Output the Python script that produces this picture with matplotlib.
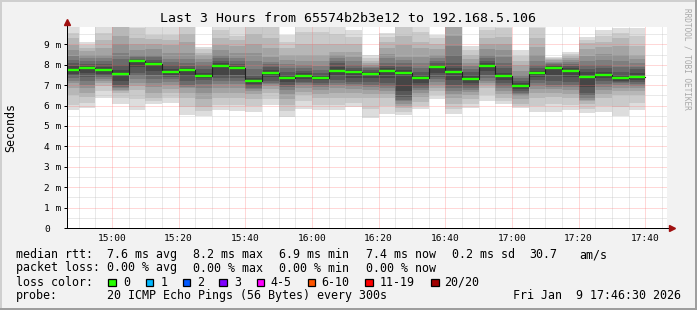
import numpy as np
import matplotlib
matplotlib.use("Agg")
import matplotlib.pyplot as plt
from matplotlib.patches import Rectangle

# ---------------- data ----------------
title = "Last 3 Hours from 65574b2b3e12 to 192.168.5.106"
range_start, range_end = "14:46:30", "17:46:30"

bucket_end = ["14:50", "14:55", "15:00", "15:05", "15:10", "15:15", "15:20",
              "15:25", "15:30", "15:35", "15:40", "15:45", "15:50", "15:55",
              "16:00", "16:05", "16:10", "16:15", "16:20", "16:25", "16:30",
              "16:35", "16:40", "16:45", "16:50", "16:55", "17:00", "17:05",
              "17:10", "17:15", "17:20", "17:25", "17:30", "17:35", "17:40"]

median_ms = [7.76, 7.82, 7.73, 7.53, 8.17, 8.02, 7.63, 7.73, 7.47, 7.92,
             7.82, 7.19, 7.58, 7.33, 7.43, 7.37, 7.68, 7.63, 7.56, 7.68,
             7.58, 7.37, 7.90, 7.63, 7.32, 7.92, 7.43, 6.94, 7.58, 7.82,
             7.68, 7.38, 7.48, 7.33, 7.38]

loss_count = [0, 0, 0, 0, 0, 0, 0, 0, 0, 0, 0, 0, 0, 0, 0, 0, 0, 0,
              0, 0, 0, 0, 0, 0, 0, 0, 0, 0, 0, 0, 0, 0, 0, 0, 0]

# 20 round-trip times (ms) per 5-minute step
pings_ms = [
    [5.78, 6.02, 6.50, 6.85, 7.09, 7.20, 7.35, 7.45, 7.55, 7.72, 7.80, 7.95, 8.10, 8.25, 8.45, 8.70, 8.95, 9.30, 9.55, 10.5],
    [5.90, 6.15, 6.43, 6.60, 6.84, 7.00, 7.20, 7.40, 7.60, 7.78, 7.86, 7.95, 8.05, 8.20, 8.35, 8.50, 8.65, 8.80, 8.95, 9.13],
    [6.38, 6.70, 6.95, 7.09, 7.20, 7.30, 7.38, 7.45, 7.55, 7.70, 7.76, 7.90, 8.05, 8.20, 8.35, 8.50, 8.80, 9.20, 9.55, 9.90],
    [6.06, 6.35, 6.60, 6.70, 6.78, 6.84, 6.90, 7.00, 7.20, 7.50, 7.56, 7.75, 8.00, 8.30, 8.60, 9.00, 9.40, 9.90, 10.4, 11.0],
    [5.78, 6.30, 6.78, 6.95, 7.11, 7.30, 7.43, 7.60, 7.90, 8.12, 8.22, 8.25, 8.30, 8.40, 8.50, 8.70, 9.00, 9.30, 9.80, 10.5],
    [6.06, 6.20, 6.35, 6.60, 6.90, 7.10, 7.30, 7.50, 7.70, 7.97, 8.07, 8.15, 8.25, 8.38, 8.48, 8.75, 9.00, 9.25, 9.46, 10.2],
    [6.11, 6.35, 6.60, 6.80, 7.00, 7.15, 7.30, 7.40, 7.50, 7.60, 7.66, 7.80, 8.00, 8.15, 8.30, 8.60, 8.97, 9.20, 9.46, 10.3],
    [5.54, 5.95, 6.35, 6.60, 6.84, 6.92, 7.00, 7.20, 7.45, 7.70, 7.76, 7.85, 7.95, 8.10, 8.30, 8.60, 9.13, 9.50, 9.90, 10.5],
    [5.50, 5.75, 5.95, 6.30, 6.60, 6.85, 7.05, 7.25, 7.35, 7.45, 7.49, 7.60, 7.80, 7.99, 8.15, 8.30, 8.48, 8.60, 8.75, 8.88],
    [5.78, 6.05, 6.35, 6.60, 6.85, 7.05, 7.20, 7.35, 7.45, 7.88, 7.96, 8.07, 8.20, 8.35, 8.50, 8.70, 8.97, 9.30, 9.70, 10.3],
    [5.75, 6.05, 6.35, 6.60, 6.85, 7.05, 7.20, 7.35, 7.50, 7.78, 7.86, 7.92, 8.05, 8.20, 8.31, 8.60, 8.90, 9.20, 9.40, 10.3],
    [5.70, 6.00, 6.30, 6.55, 6.70, 6.80, 6.88, 6.95, 7.05, 7.15, 7.23, 7.35, 7.50, 7.80, 8.20, 8.60, 9.00, 9.50, 10.0, 10.8],
    [6.03, 6.30, 6.60, 6.80, 6.95, 7.05, 7.09, 7.20, 7.40, 7.55, 7.61, 7.74, 7.90, 8.05, 8.15, 8.40, 8.80, 9.30, 9.90, 10.4],
    [5.45, 5.75, 6.03, 6.30, 6.55, 6.75, 6.90, 7.00, 7.15, 7.30, 7.36, 7.50, 7.66, 7.85, 8.05, 8.25, 8.48, 8.80, 9.10, 9.46],
    [5.83, 6.20, 6.50, 6.68, 6.85, 7.00, 7.10, 7.17, 7.30, 7.40, 7.46, 7.58, 7.70, 7.82, 8.00, 8.20, 8.48, 9.00, 9.60, 10.2],
    [5.78, 6.05, 6.35, 6.55, 6.75, 6.90, 7.00, 7.10, 7.25, 7.34, 7.40, 7.50, 7.60, 7.75, 7.95, 8.20, 8.48, 9.00, 9.60, 10.2],
    [5.78, 6.05, 6.35, 6.60, 6.85, 7.00, 7.09, 7.25, 7.45, 7.65, 7.71, 7.90, 8.07, 8.20, 8.35, 8.50, 8.64, 9.00, 9.50, 9.95],
    [5.95, 6.15, 6.35, 6.60, 6.80, 6.95, 7.05, 7.17, 7.35, 7.60, 7.66, 7.75, 7.85, 8.00, 8.20, 8.40, 8.64, 9.00, 9.35, 9.70],
    [5.40, 5.85, 6.35, 6.55, 6.75, 6.90, 7.00, 7.15, 7.35, 7.53, 7.59, 7.66, 7.75, 7.82, 7.90, 8.00, 8.10, 8.20, 8.35, 8.48],
    [5.60, 6.00, 6.35, 6.55, 6.70, 6.84, 6.95, 7.10, 7.35, 7.65, 7.71, 7.82, 7.95, 8.10, 8.31, 8.55, 8.80, 9.13, 9.35, 9.55],
    [5.54, 5.70, 5.86, 6.00, 6.10, 6.20, 6.27, 6.40, 6.70, 7.55, 7.61, 7.75, 7.90, 8.10, 8.25, 8.40, 8.97, 9.40, 9.90, 10.4],
    [5.83, 6.00, 6.19, 6.40, 6.60, 6.75, 6.84, 6.95, 7.10, 7.34, 7.40, 7.50, 7.66, 7.85, 8.10, 8.40, 8.80, 9.13, 9.60, 10.3],
    [6.30, 6.50, 6.70, 6.84, 7.00, 7.15, 7.30, 7.41, 7.60, 7.87, 7.93, 7.99, 8.10, 8.20, 8.31, 8.50, 8.75, 9.00, 9.30, 9.47],
    [5.60, 5.85, 6.10, 6.35, 6.55, 6.70, 6.84, 7.00, 7.25, 7.60, 7.66, 7.82, 8.10, 8.50, 8.90, 9.40, 9.90, 10.4, 10.9, 11.5],
    [5.90, 6.10, 6.30, 6.52, 6.65, 6.75, 6.84, 6.95, 7.10, 7.30, 7.34, 7.50, 7.66, 7.80, 7.95, 8.10, 8.30, 8.48, 8.70, 8.90],
    [6.20, 6.50, 6.84, 7.00, 7.10, 7.20, 7.33, 7.50, 7.70, 7.88, 7.96, 8.07, 8.20, 8.31, 8.50, 8.75, 9.00, 9.29, 9.70, 10.2],
    [6.06, 6.20, 6.35, 6.55, 6.70, 6.84, 6.95, 7.10, 7.25, 7.40, 7.46, 7.58, 7.82, 8.10, 8.40, 8.70, 9.00, 9.37, 9.80, 10.3],
    [5.86, 6.00, 6.10, 6.30, 6.45, 6.55, 6.60, 6.70, 6.80, 6.92, 6.96, 7.09, 7.20, 7.35, 7.50, 7.70, 7.99, 8.20, 8.45, 8.70],
    [5.70, 6.00, 6.35, 6.60, 6.80, 6.95, 7.10, 7.25, 7.40, 7.55, 7.61, 7.70, 7.82, 8.00, 8.20, 8.50, 8.88, 9.30, 9.80, 10.3],
    [5.70, 6.10, 6.43, 6.60, 6.80, 6.90, 7.00, 7.20, 7.50, 7.80, 7.84, 7.92, 7.99, 8.05, 8.10, 8.15, 8.23, 8.28, 8.33, 8.40],
    [5.78, 6.05, 6.35, 6.55, 6.75, 6.90, 7.00, 7.15, 7.40, 7.65, 7.71, 7.82, 7.95, 8.05, 8.15, 8.25, 8.35, 8.45, 8.55, 8.64],
    [5.62, 5.85, 6.10, 6.20, 6.27, 6.35, 6.45, 6.60, 6.90, 7.35, 7.41, 7.66, 7.80, 7.99, 8.20, 8.45, 8.75, 9.05, 9.20, 9.38],
    [5.70, 6.00, 6.35, 6.55, 6.75, 6.92, 7.05, 7.20, 7.35, 7.45, 7.51, 7.65, 7.82, 7.99, 8.25, 8.55, 8.85, 9.13, 9.40, 9.70],
    [5.50, 5.95, 6.52, 6.70, 6.85, 7.00, 7.09, 7.15, 7.22, 7.30, 7.36, 7.50, 7.66, 7.90, 8.20, 8.50, 8.90, 9.29, 9.55, 9.82],
    [5.78, 6.15, 6.52, 6.70, 6.84, 6.95, 7.05, 7.15, 7.25, 7.35, 7.41, 7.60, 7.80, 7.90, 8.10, 8.30, 8.48, 8.90, 9.40, 9.82],
]

x_tick_labels = ["15:00", "15:20", "15:40", "16:00", "16:20", "16:40", "17:00", "17:20", "17:40"]
y_tick_values = [0, 1, 2, 3, 4, 5, 6, 7, 8, 9]
y_tick_labels = ["0", "1 m", "2 m", "3 m", "4 m", "5 m", "6 m", "7 m", "8 m", "9 m"]
y_max_ms = 9.85

loss_labels = ["0", "1", "2", "3", "4-5", "6-10", "11-19", "20/20"]
loss_colors = ["#26ff00", "#00b8ff", "#0059ff", "#7e00ff", "#ff00ff", "#ff5500", "#ff0000", "#a10000"]

stats_rtt = ["7.6 ms avg", "8.2 ms max", "6.9 ms min", "7.4 ms now", "0.2 ms sd", "30.7", "am/s"]
stats_loss = ["0.00 % avg", "0.00 % max", "0.00 % min", "0.00 % now"]
probe_text = "20 ICMP Echo Pings (56 Bytes) every 300s"
stamp_text = "Fri Jan  9 17:46:30 2026"
y_label = "Seconds"
watermark = "RRDTOOL / TOBI OETIKER"

# ---------------- helpers ----------------
def to_min(s):
    parts = [int(p) for p in s.split(":")]
    while len(parts) < 3:
        parts.append(0)
    return parts[0] * 60 + parts[1] + parts[2] / 60.0

W, H = 697, 310
MONO = "DejaVu Sans Mono"
BG = "#f2f2f2"

fig = plt.figure(figsize=(W / 100, H / 100), dpi=100, facecolor=BG)

def fx(x):
    return x / W

def fy(y):
    return 1 - y / H

ax_left, ax_right, ax_top, ax_bottom = 67, 667, 27, 228
ax = fig.add_axes([fx(ax_left), fy(ax_bottom), (ax_right - ax_left) / W, (ax_bottom - ax_top) / H])
ax.set_facecolor("white")

ends = np.array([to_min(t) for t in bucket_end])
step = 5.0
lefts = ends - step

# smoke (smokeping style: outer ping pairs light, inner pairs dark)
for left, pings in zip(lefts, pings_ms):
    p = sorted(pings)
    n = len(p)
    half = n / 2
    ibot, itop = 1, n
    while itop > ibot:
        c = int(190 / half * (half - ibot)) + 50
        col = "#%02x%02x%02x" % (c, c, c)
        ax.bar(left, p[itop - 1] - p[ibot - 1], bottom=p[ibot - 1], width=step,
               align="edge", color=col, linewidth=0, zorder=1)
        ibot += 1
        itop -= 1

# median dark step line
xs = np.append(lefts, ends[-1])
ys = np.append(median_ms, median_ms[-1])
ax.step(xs, ys, where="post", color="#202020", lw=0.8, zorder=3)

# loss-coloured median band
def loss_color(l):
    if l == 0:
        return loss_colors[0]
    if l <= 3:
        return loss_colors[l]
    if l <= 5:
        return loss_colors[4]
    if l <= 10:
        return loss_colors[5]
    if l <= 19:
        return loss_colors[6]
    return loss_colors[7]

ax.hlines(median_ms, lefts, ends, colors=[loss_color(l) for l in loss_count], lw=1.7, zorder=4)

# axes ranges
ax.set_xlim(to_min(range_start), to_min(range_end))
ax.set_ylim(0, y_max_ms)

major_x = [to_min(t) for t in x_tick_labels]
minor_x = np.arange(to_min("14:50"), to_min(range_end), 5.0)
ax.set_xticks(major_x, x_tick_labels)
ax.set_xticks(minor_x, minor=True)
ax.set_yticks(y_tick_values, y_tick_labels)
ax.set_yticks(np.arange(0.5, y_max_ms, 1.0), minor=True)

ax.set_axisbelow(False)
dot = (0, (1, 1))
ax.grid(which="minor", color="#b8b8b8", alpha=0.6, linestyle=dot, lw=0.72)
ax.grid(which="major", color="#ff7070", alpha=0.55, linestyle=dot, lw=0.72)

ax.tick_params(axis="x", which="both", length=0, pad=4.5, labelsize=6.8, labelfontfamily=MONO)
ax.tick_params(axis="y", which="major", length=2.2, width=0.72, direction="out", pad=14.3,
               labelsize=6.8, labelfontfamily=MONO)
ax.tick_params(axis="y", which="minor", length=0)
for lab in ax.get_yticklabels():
    lab.set_horizontalalignment("left")

for s in ("top", "right"):
    ax.spines[s].set_visible(False)
for s in ("left", "bottom"):
    ax.spines[s].set_color("black")
    ax.spines[s].set_linewidth(0.72)
    ax.spines[s].set_zorder(5)

# axis arrows
arrow_col = "#a01010"
ax.plot([0, 0], [1, 1 + 4 / 201], transform=ax.transAxes, color="black", lw=0.72, clip_on=False)
ax.plot([0], [1 + 5 / 201], marker="^", ms=4.5, color=arrow_col, mec=arrow_col,
        transform=ax.transAxes, clip_on=False, zorder=6)
ax.plot([1, 1 + 3 / 600], [0, 0], transform=ax.transAxes, color="black", lw=0.72, clip_on=False)
ax.plot([1 + 5 / 600], [0], marker=">", ms=4.5, color=arrow_col, mec=arrow_col,
        transform=ax.transAxes, clip_on=False, zorder=6)

# title, labels
fig.text(fx(348), fy(19), title, ha="center", va="center", fontsize=9.5, family=MONO)
fig.text(fx(10.5), fy(127), y_label, rotation=90, ha="center", va="center", fontsize=8.4, family=MONO)
fig.text(fx(687), fy(59), watermark, rotation=-90, ha="center", va="center", fontsize=5.6,
         family=MONO, color="#a8a8a8")

# legend
FS = 8.4
rows_y = [254.7, 268.0, 282.3, 295.7]
fig.text(fx(15.5), fy(rows_y[0]), "median rtt:", ha="left", va="center", fontsize=FS, family=MONO)
for x, t in zip([107, 193, 279, 365.5, 452, 529.5, 579], stats_rtt):
    fig.text(fx(x), fy(rows_y[0]), t, ha="left", va="center", fontsize=FS, family=MONO)
fig.text(fx(15.5), fy(rows_y[1]), "packet loss:", ha="left", va="center", fontsize=FS, family=MONO)
for x, t in zip([107, 193, 279, 365.5], stats_loss):
    fig.text(fx(x), fy(rows_y[1]), t, ha="left", va="center", fontsize=FS, family=MONO)
fig.text(fx(15.5), fy(rows_y[2]), "loss color:", ha="left", va="center", fontsize=FS, family=MONO)
box_x = [108.3, 145.7, 182.7, 219.3, 256.7, 307.7, 365.3, 431]
lab_x = [122.8, 160.2, 197.2, 233.8, 270.5, 321.2, 379.5, 444.5]
for bx, lx, lab, col in zip(box_x, lab_x, loss_labels, loss_colors):
    fig.patches.append(Rectangle((fx(bx), fy(rows_y[2] + 4)), 7.5 / W, 7.5 / H,
                                 transform=fig.transFigure, facecolor=col, edgecolor="black",
                                 linewidth=0.9))
    fig.text(fx(lx), fy(rows_y[2]), lab, ha="left", va="center", fontsize=FS, family=MONO)
fig.text(fx(15.5), fy(rows_y[3]), "probe:", ha="left", va="center", fontsize=FS, family=MONO)
fig.text(fx(107), fy(rows_y[3]), probe_text, ha="left", va="center", fontsize=FS, family=MONO)
fig.text(fx(681), fy(rows_y[3]), stamp_text, ha="right", va="center", fontsize=FS, family=MONO)

# image frame (shade)
fig.patches.append(Rectangle((0, 0), 1, 2 / H, transform=fig.transFigure, color="#9e9e9e", lw=0))
fig.patches.append(Rectangle((1 - 2 / W, 0), 2 / W, 1, transform=fig.transFigure, color="#9e9e9e", lw=0))
fig.patches.append(Rectangle((0, 1 - 2 / H), 1 - 2 / W, 2 / H, transform=fig.transFigure, color="#cfcfcf", lw=0))
fig.patches.append(Rectangle((0, 2 / H), 2 / W, 1 - 4 / H, transform=fig.transFigure, color="#cfcfcf", lw=0))

fig.savefig("out.png", dpi=100, facecolor=BG)
